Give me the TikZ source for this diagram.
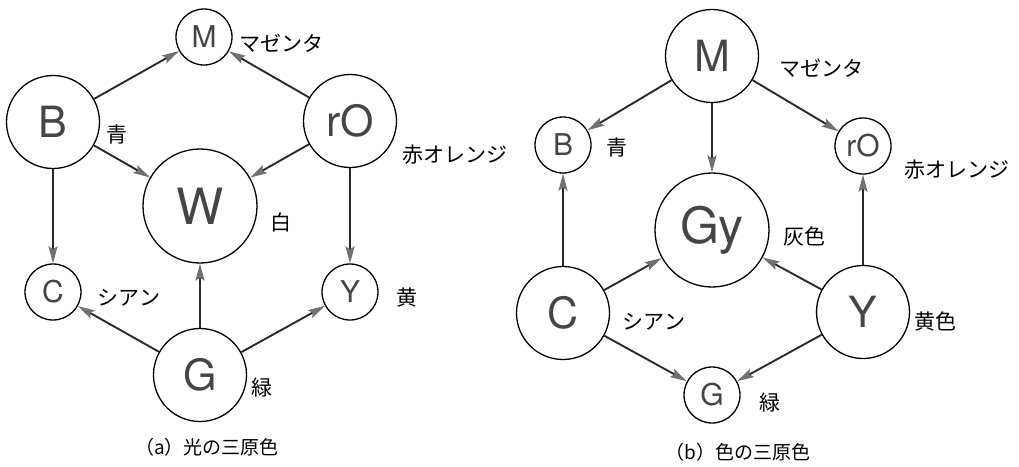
\documentclass[tikz,border=0pt]{standalone}
\usepackage{fontspec}
\setmainfont{TeX Gyre Heros}
\newfontfamily\jp{Noto Sans CJK JP}
\usetikzlibrary{arrows.meta}
\definecolor{lettergray}{HTML}{454545}
\definecolor{linegray}{HTML}{2A2A2A}
\definecolor{tipgray}{HTML}{707070}
\begin{document}
\begin{tikzpicture}[x=1pt,y=-1pt,
 circ/.style={circle,draw=black,line width=1.3pt,inner sep=0pt,text=lettergray,minimum size=#1},
 smallc/.style={circ=56pt,font=\fontsize{30}{30}\selectfont},
 bigc/.style={circ=93pt,font=\fontsize{43}{43}\selectfont},
 hugec/.style={circ=114pt,font=\fontsize{50}{50}\selectfont},
 lab/.style={font=\jp\fontsize{21}{21}\selectfont,inner sep=0pt},
 captxt/.style={font=\jp\fontsize{19}{19}\selectfont,inner sep=0pt},
 arr/.style={draw=linegray,line width=1.9pt,-{Stealth[length=17pt,width=9pt,inset=3pt,fill=tipgray,color=tipgray]}},
]
\useasboundingbox (0,0) rectangle (1019,466);
% ---------- (a)
\node[smallc] (aM) at (204,37) {M};
\node[bigc] (aB) at (53,122) {B};
\node[bigc] (aR) at (350,121) {rO};
\node[hugec] (aW) at (200,206) {W};
\node[smallc] (aC) at (53,292) {C};
\node[smallc] (aY) at (350,292) {Y};
\node[bigc] (aG) at (200,375) {G};
\draw[arr] (aB) -- (aM);
\draw[arr] (aR) -- (aM);
\draw[arr] (aB) -- (aW);
\draw[arr] (aR) -- (aW);
\draw[arr] (aB) -- (aC);
\draw[arr] (aR) -- (aY);
\draw[arr] (aG) -- (aC);
\draw[arr] (aG) -- (aW);
\draw[arr] (aG) -- (aY);
\node[lab,anchor=west] (laM) at (239,43) {マゼンタ};
\node[lab] (laB) at (117,135) {青};
\node[lab] (laR) at (455,155) {赤オレンジ};
\node[lab] (laW) at (281,222) {白};
\node[lab] (laC) at (129,298) {シアン};
\node[lab] (laY) at (407,298) {黄};
\node[lab] (laG) at (262,388) {緑};
\node[captxt] (capa) at (207,447) {（a）光の三原色};
% ---------- (b)
\node[bigc] (bM) at (712,56) {M};
\node[smallc] (bB) at (563,145) {B};
\node[smallc] (bR) at (863,146) {rO};
\node[hugec] (bGy) at (712,230) {Gy};
\node[bigc] (bC) at (563,313) {C};
\node[bigc] (bY) at (863,312) {Y};
\node[smallc] (bG) at (712,395) {G};
\draw[arr] (bM) -- (bB);
\draw[arr] (bM) -- (bGy);
\draw[arr] (bM) -- (bR);
\draw[arr] (bC) -- (bB);
\draw[arr] (bY) -- (bR);
\draw[arr] (bC) -- (bGy);
\draw[arr] (bY) -- (bGy);
\draw[arr] (bC) -- (bG);
\draw[arr] (bY) -- (bG);
\node[lab] (lbM) at (821,68) {マゼンタ};
\node[lab] (lbB) at (617,148) {青};
\node[lab] (lbR) at (957,170) {赤オレンジ};
\node[lab] (lbGy) at (804,236) {灰色};
\node[lab] (lbC) at (654,322) {シアン};
\node[lab] (lbY) at (935,322) {黄色};
\node[lab] (lbG) at (770,403) {緑};
\node[captxt] (capb) at (738,452) {（b）色の三原色};
\end{tikzpicture}
\end{document}
